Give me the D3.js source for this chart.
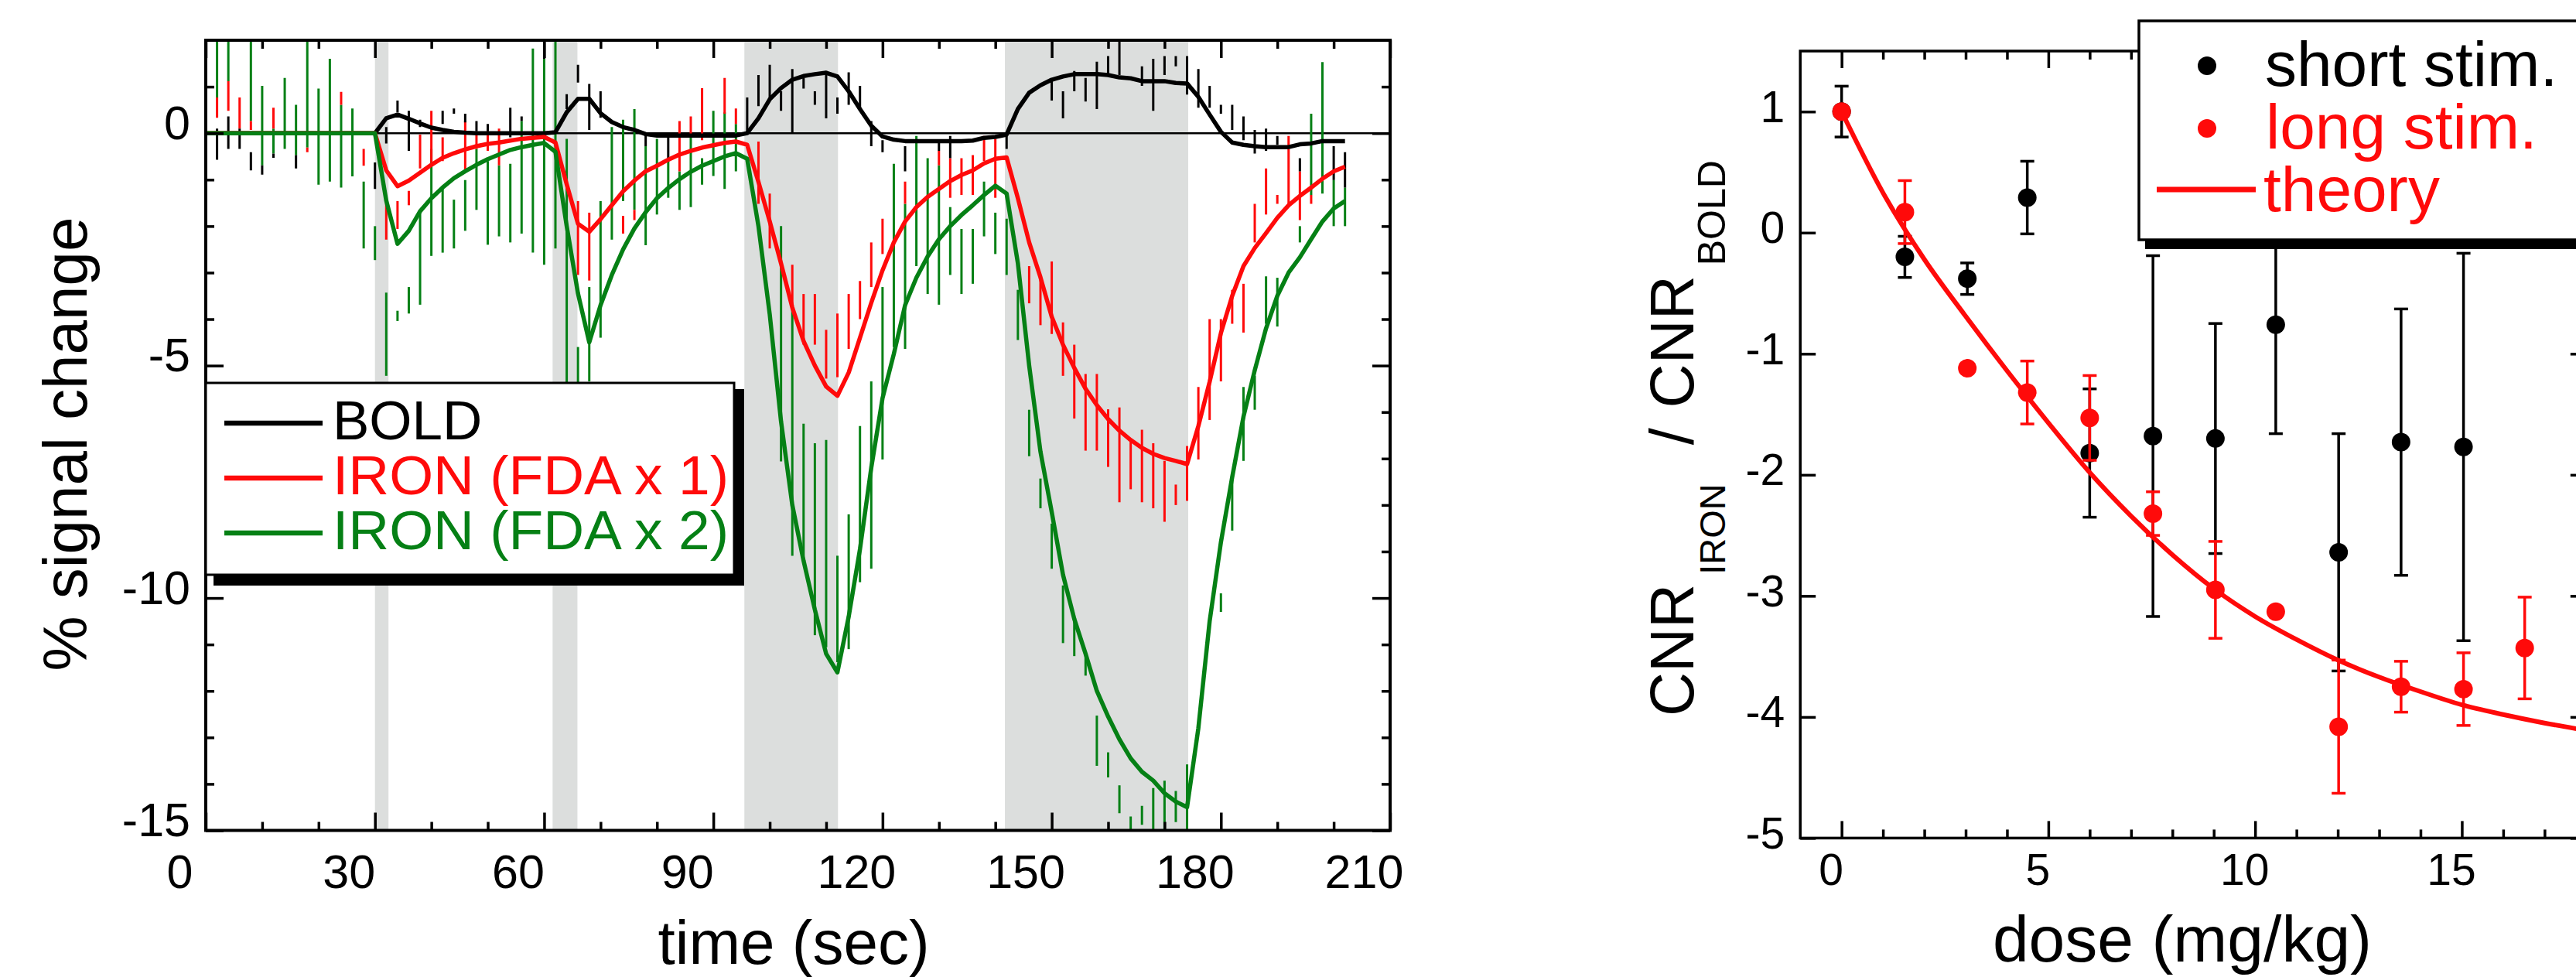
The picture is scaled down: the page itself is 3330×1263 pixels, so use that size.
<!DOCTYPE html>
<html><head><meta charset="utf-8">
<script src="https://cdn.jsdelivr.net/npm/d3@7"></script>
<style>
body{margin:0;background:#fff}
svg{display:block}
text{font-family:"Liberation Sans",Arial,Helvetica,sans-serif}
</style>
</head><body>
<svg id="c" width="3330" height="1263"></svg>
<script>
// ---------------- DATA (left panel) ----------------
const timeSec = [0,2,4,6,8,10,12,14,16,18,20,22,24,26,28,30,32,34,36,38,40,42,44,46,48,50,52,54,56,58,60,
 62,64,66,68,70,72,74,76,78,80,82,84,86,88,90,92,94,96,98,100,102,104,106,108,110,112,114,116,118,120,
 122,124,126,128,130,132,134,136,138,140,142,144,146,148,150,152,154,156,158,160,162,164,166,168,170,
 172,174,176,178,180,182,184,186,188,190,192,194,196,198,200,202];
const boldFit = [0,0,0,0,0,0,0,0,0,0,0,0,0,0,0,0,
 0.32,0.4,0.31,0.21,0.12,0.07,0.03,0.01,
 0,0,0,0,0,0,0,
 0.02,0.45,0.74,0.74,0.43,0.24,0.13,0.07,-0.02,
 -0.05,-0.05,-0.05,-0.05,-0.05,-0.05,-0.05,-0.05,
 0.0,0.32,0.73,0.97,1.15,1.23,1.27,1.3,1.22,0.9,0.52,0.16,-0.07,-0.14,-0.17,-0.17,-0.17,-0.17,-0.17,-0.17,-0.16,-0.1,-0.08,-0.03,
 0.52,0.87,1.03,1.15,1.22,1.27,1.27,1.27,1.25,1.2,1.18,1.12,1.12,1.12,1.08,1.07,0.78,0.4,0.03,-0.2,-0.25,-0.28,-0.3,-0.3,-0.3,-0.24,-0.22,-0.17,-0.17,-0.17];
const iron1Fit = [0,0,0,0,0,0,0,0,0,0,0,0,0,0,0,0,
 -0.8,-1.14,-1.02,-0.85,-0.68,-0.53,-0.43,-0.35,
 -0.28,-0.23,-0.2,-0.16,-0.12,-0.1,-0.08,
 -0.2,-1.1,-1.95,-2.12,-1.85,-1.55,-1.25,-1.02,-0.82,
 -0.7,-0.57,-0.46,-0.38,-0.31,-0.26,-0.21,-0.18,
 -0.25,-1.05,-1.9,-2.8,-3.75,-4.47,-5.0,-5.45,-5.65,-5.15,-4.4,-3.65,-2.95,-2.35,-1.9,-1.59,-1.37,-1.2,-1.03,-0.9,-0.8,-0.65,-0.55,-0.52,
 -1.4,-2.35,-3.1,-3.95,-4.55,-5.05,-5.5,-5.85,-6.15,-6.4,-6.6,-6.77,-6.9,-6.99,-7.05,-7.12,-6.3,-5.35,-4.3,-3.5,-2.86,-2.47,-2.15,-1.82,-1.55,-1.35,-1.17,-0.98,-0.82,-0.72];
const iron2Fit = [0,0,0,0,0,0,0,0,0,0,0,0,0,0,0,0,
 -1.45,-2.38,-2.1,-1.68,-1.4,-1.17,-0.97,-0.82,
 -0.68,-0.56,-0.46,-0.36,-0.3,-0.25,-0.21,
 -0.4,-2.0,-3.45,-4.5,-3.7,-3.05,-2.5,-2.05,-1.7,
 -1.4,-1.18,-0.99,-0.83,-0.7,-0.6,-0.5,-0.43,
 -0.55,-2.0,-3.9,-6.2,-8.0,-9.2,-10.25,-11.2,-11.6,-10.4,-8.95,-7.2,-5.7,-4.75,-3.7,-3.11,-2.65,-2.28,-2.0,-1.76,-1.55,-1.33,-1.13,-1.3,
 -2.8,-5.0,-6.85,-8.15,-9.5,-10.45,-11.2,-12.0,-12.55,-13.04,-13.45,-13.74,-13.93,-14.2,-14.38,-14.5,-12.8,-10.5,-8.8,-7.4,-6.1,-5.1,-4.2,-3.5,-3.0,-2.67,-2.28,-1.9,-1.62,-1.46];
// error segments: [time, low, high]
const boldErr = [[2,-0.57,0.1],[4,-0.34,0.36],[6,-0.34,0.1],[8,-0.8,-0.41],[10,-0.89,-0.69],[12,-0.53,-0.44],[16,-0.76,-0.47],
 [30,-1.2,-0.63],[32,-0.22,0.13],[34,0.45,0.7],[36,-0.38,0.48],[38,0.13,0.29],[42,0.2,0.48],[44,0.42,0.53],[46,0.23,0.42],
 [48,0.04,0.26],[50,0.04,0.2],[54,-0.09,0.55],[56,0.26,0.36],[60,1.6,2.0],[64,0.52,0.84],[66,1.09,1.47],[68,0.07,1.06],[70,0.33,0.9],
 [78,-0.28,-0.03],[82,-0.54,-0.09],[96,0,0.77],[98,0.58,1.25],[100,0.77,1.47],[102,0.48,0.9],[104,0,1.38],[106,0.96,1.19],
 [108,0.61,0.9],[110,0.32,1.34],[112,0.42,0.77],[114,0.61,1.31],[116,0.55,1.02],[118,-0.28,0.26],[120,-0.41,-0.15],[124,-0.82,-0.28],
 [130,-0.38,-0.18],[132,-0.54,-0.06],[142,-0.34,-0.03],[150,0.7,1.12],[152,0.32,0.9],[154,0.9,1.34],[156,0.68,1.19],[158,0.52,1.54],
 [160,1.28,1.66],[162,1.25,2.0],[166,1.02,1.44],[168,0.48,1.6],[170,1.25,1.66],[172,1.44,1.66],[174,0.83,1.66],[176,0.55,1.38],
 [178,0.55,1.02],[180,0.42,0.61],[182,0.07,0.61],[184,-0.15,0.36],[186,-0.44,0.07],[188,-0.38,0.1],[190,-0.25,-0.06],
 [194,-0.82,-0.54],[200,-1.01,-0.28],[202,-1.17,-0.41]];
const iron1Err = [[2,0.33,0.77],[4,0.48,1.12],[6,0.1,0.77],[8,0.07,0.26],[12,0.1,0.55],[18,-0.41,-0.31],[24,0.61,0.89],[28,-0.7,-0.34],
 [32,-2.29,-1.39],[34,-2.06,-1.46],[36,-1.55,-1.24],[38,-0.76,-0.03],[40,-0.63,0.48],[42,-0.6,-0.09],[46,-0.85,0.26],[48,-0.34,0.04],
 [50,-0.38,0.1],[52,-0.69,0.1],[66,-3.05,-1.46],[68,-3.17,-1.71],[74,-2.16,-1.78],[76,-1.87,-1.65],[84,-0.82,0.26],[86,-0.06,0.36],
 [88,-0.15,0.97],[92,0.42,1.19],[94,0.2,0.53],[98,-1.52,-0.18],[100,-2.48,-1.3],[104,-3.81,-2.83],[106,-4.55,-3.46],[108,-4.55,-3.46],
 [110,-5.28,-4.23],[112,-5.25,-3.88],[114,-4.64,-3.46],[116,-4.0,-3.18],[118,-3.31,-2.35],[120,-2.6,-1.84],[124,-1.52,-1.04],
 [130,-0.69,-0.38],[132,-1.39,-0.54],[134,-1.33,-0.54],[136,-1.33,-0.47],[138,-0.6,-0.06],[140,-1.39,-0.12],[146,-3.66,-2.86],
 [148,-4.13,-3.05],[150,-4.32,-2.76],[152,-5.22,-4.07],[154,-6.14,-4.55],[156,-6.83,-5.18],[158,-6.83,-5.18],[160,-7.18,-5.94],
 [162,-7.94,-5.9],[164,-7.66,-6.6],[166,-7.94,-6.38],[168,-8.07,-6.67],[170,-8.36,-7.05],[172,-8.0,-7.56],[174,-7.91,-6.73],
 [176,-7.02,-5.46],[178,-6.17,-4.0],[180,-5.34,-4.0],[182,-4.1,-3.37],[184,-4.29,-3.24],[186,-2.35,-1.52],[188,-1.75,-0.76],
 [190,-1.52,-1.33],[192,-1.59,-0.06],[194,-1.87,-0.82],[196,-1.52,-1.33]];
const iron2Err = [[2,0.77,2.0],[4,1.12,2.0],[8,0.26,2.0],[10,-0.69,1.02],[12,-0.44,0.1],[14,-0.34,1.19],[16,-0.47,0.61],[18,-0.31,2.0],
 [20,-1.11,0.96],[22,-1.04,1.6],[24,-1.17,0.61],[26,-0.93,0.53],[28,-2.48,-1.04],[30,-2.73,-2.0],[32,-5.22,-3.43],[34,-4.04,-3.82],
 [36,-3.88,-3.31],[38,-3.69,-1.71],[40,-2.64,-0.34],[42,-2.57,-1.2],[44,-2.48,-1.43],[46,-2.1,-1.01],[48,-1.65,-0.34],[50,-2.4,-0.6],
 [52,-2.22,-0.69],[54,-2.35,-0.66],[56,-2.16,0.26],[58,-2.57,1.82],[60,-2.83,1.6],[62,-2.48,2.0],[64,-6.0,-0.12],[66,-6.6,-4.6],
 [68,-5.34,-3.31],[70,-4.4,-1.46],[72,-2.29,0.13],[74,-1.46,0.29],[76,-1.65,0.52],[78,-2.41,-0.28],[80,-1.75,-0.12],[82,-1.39,-0.54],
 [84,-1.65,-0.82],[86,-1.59,-0.06],[88,-1.11,-0.54],[90,-0.92,0.48],[92,-1.2,0.45],[94,-0.82,0.2],[102,-7.06,-2.0],[104,-9.09,-3.75],
 [106,-9.09,-6.25],[108,-10.8,-6.67],[110,-11.06,-6.6],[112,-11.38,-9.09],[114,-11.1,-8.2],[116,-9.66,-6.3],[118,-9.37,-5.34],
 [120,-7.02,-3.31],[122,-4.6,-0.66],[124,-4.64,-1.52],[126,-2.86,-0.06],[128,-3.46,-0.54],[130,-3.69,-0.69],[132,-3.05,-1.59],
 [134,-3.46,-2.06],[136,-3.24,-2.06],[138,-2.22,-1.04],[140,-2.6,-1.71],[142,-3.05,-1.84],[144,-4.45,-3.37],[146,-6.95,-5.95],
 [148,-8.07,-7.43],[150,-9.37,-8.4],[152,-10.97,-9.73],[154,-11.25,-10.43],[156,-11.67,-11.19],[158,-13.61,-12.53],
 [160,-13.86,-13.32],[162,-14.63,-14.03],[164,-15,-14.7],[166,-14.88,-14.47],[168,-15,-14.09],[170,-15,-13.93],[172,-14.82,-14.15],
 [174,-15,-13.58],[180,-10.3,-9.9],[182,-8.55,-7.37],[184,-7.05,-5.46],[186,-5.95,-5.22],[188,-4.1,-3.08],[190,-4.16,-3.11],
 [194,-2.35,-2.0],[196,-1.33,0.42],[198,-1.3,1.53],[200,-2.0,-1.01],[202,-2.0,-1.17]];
const stimStart = [30, 61.5, 95.5, 141.7];
const stimEnd   = [32.4, 65.9, 112.1, 174.2];
const timeTickLabels = [0,30,60,90,120,150,180,210];
const timeMinorTicks = [10,20,40,50,70,80,100,110,130,140,160,170,190,200];
const signalTickLabels = [0,-5,-10,-15];
const signalMinorTicks = [1,-1,-2,-3,-4,-6,-7,-8,-9,-11,-12,-13,-14];
const leftLegend = ["BOLD","IRON (FDA x 1)","IRON (FDA x 2)"];

// ---------------- DATA (right panel) ----------------
const doseShort = [0, 1.53, 3.04, 4.49, 6.0, 7.53, 9.04, 10.5, 12.02, 13.53, 15.04];
const cnrShort  = [1.0, -0.2, -0.38, 0.29, -1.82, -1.68, -1.7, -0.76, -2.64, -1.73, -1.77];
const errShort  = [0.21, 0.17, 0.13, 0.3, 0.53, 1.49, 0.95, 0.9, 0.98, 1.1, 1.6];
const doseLong  = [0, 1.53, 3.04, 4.49, 6.0, 7.53, 9.04, 10.5, 12.02, 13.53, 15.04, 16.52];
const cnrLong   = [1.0, 0.17, -1.12, -1.32, -1.53, -2.32, -2.95, -3.13, -4.08, -3.75, -3.77, -3.43];
const errLong   = [0, 0.26, 0, 0.26, 0.35, 0.18, 0.4, 0, 0.55, 0.21, 0.3, 0.42];
const theoryDose = [0,1,2,3,4,5,6,7,8,9,10,11,12,13,14,15,16,17,18];
const theoryCnr  = [1.0,0.33,-0.22,-0.69,-1.14,-1.57,-1.98,-2.34,-2.66,-2.94,-3.17,-3.36,-3.53,-3.67,-3.79,-3.9,-3.98,-4.05,-4.11];
const doseTickLabels = [0,5,10,15];
const doseMinorTicks = [1,2,3,4,6,7,8,9,11,12,13,14,16,17];
const cnrTicks = [1,0,-1,-2,-3,-4,-5];
const rightLegend = ["short stim.","long stim.","theory"];

// ---------------- STYLE ----------------
const C_BLACK="#000000", C_RED="#ff0a0a", C_GREEN="#058015", C_GRAY="#dcdedd";
const FONT='"Liberation Sans",Arial,sans-serif';
const plain = d => String(d);   // hyphen-minus like the original
const svg = d3.select("#c");
svg.append("rect").attr("width",3330).attr("height",1263).attr("fill","#fff");

// ================= LEFT PANEL =================
const xL = d3.scaleLinear().domain([0,210]).range([266,1797]);
const yL = d3.scaleLinear().domain([-15,2]).range([1073.5,52]);
const L = svg.append("g");
L.append("clipPath").attr("id","clipL").append("rect")
  .attr("x",xL(0)).attr("y",yL(2)).attr("width",xL(210)-xL(0)).attr("height",yL(-15)-yL(2));

// stimulus bars
L.selectAll("rect.stim").data(stimStart).join("rect").attr("class","stim")
  .attr("x",(d)=>xL(d)).attr("width",(d,i)=>xL(stimEnd[i])-xL(d))
  .attr("y",yL(2)).attr("height",yL(-15)-yL(2)).attr("fill",C_GRAY);

// zero line
L.append("line").attr("x1",xL(0)).attr("x2",xL(210)).attr("y1",yL(0)).attr("y2",yL(0))
  .attr("stroke",C_BLACK).attr("stroke-width",2.5);

const plotL = L.append("g").attr("clip-path","url(#clipL)");
function errSegs(arr,color){
  plotL.append("g").selectAll("line").data(arr).join("line")
    .attr("x1",d=>xL(d[0])).attr("x2",d=>xL(d[0]))
    .attr("y1",d=>yL(d[1])).attr("y2",d=>yL(d[2]))
    .attr("stroke",color).attr("stroke-width",3);
}
errSegs(iron2Err,C_GREEN);
errSegs(iron1Err,C_RED);
errSegs(boldErr,C_BLACK);
const lineL = d3.line().x((d,i)=>xL(timeSec[i])).y(d=>yL(d));
[[boldFit,C_BLACK],[iron1Fit,C_RED],[iron2Fit,C_GREEN]].forEach(([s,c])=>{
  plotL.append("path").attr("d",lineL(s)).attr("fill","none").attr("stroke",c)
    .attr("stroke-width",5.5).attr("stroke-linejoin","round");
});

// axes (left panel)
function styleAxis(g){ g.select(".domain").remove(); g.selectAll(".tick line").attr("stroke",C_BLACK).attr("stroke-width",3.5); }
// bottom
L.append("g").attr("transform",`translate(0,${yL(-15)})`)
  .call(d3.axisBottom(xL).tickValues(timeMinorTicks).tickSize(-11).tickFormat("")).call(styleAxis);
const bL = L.append("g").attr("transform",`translate(0,${yL(-15)})`)
  .call(d3.axisBottom(xL).tickValues(timeTickLabels).tickSize(-23).tickPadding(31).tickFormat(plain)).call(styleAxis);
bL.selectAll("text").attr("font-size",61).attr("fill",C_BLACK).attr("dx",-34).style("font-family",FONT);
// top
L.append("g").attr("transform",`translate(0,${yL(2)})`)
  .call(d3.axisTop(xL).tickValues(timeMinorTicks).tickSize(-11).tickFormat("")).call(styleAxis);
L.append("g").attr("transform",`translate(0,${yL(2)})`)
  .call(d3.axisTop(xL).tickValues(timeTickLabels).tickSize(-23).tickFormat("")).call(styleAxis);
// left
L.append("g").attr("transform",`translate(${xL(0)},0)`)
  .call(d3.axisLeft(yL).tickValues(signalMinorTicks).tickSize(-11).tickFormat("")).call(styleAxis);
const lL = L.append("g").attr("transform",`translate(${xL(0)},0)`)
  .call(d3.axisLeft(yL).tickValues(signalTickLabels).tickSize(-23).tickPadding(20).tickFormat(plain)).call(styleAxis);
lL.selectAll("text").attr("font-size",61).attr("fill",C_BLACK).attr("dy",7).style("font-family",FONT);
// right
L.append("g").attr("transform",`translate(${xL(210)},0)`)
  .call(d3.axisRight(yL).tickValues(signalMinorTicks).tickSize(-11).tickFormat("")).call(styleAxis);
L.append("g").attr("transform",`translate(${xL(210)},0)`)
  .call(d3.axisRight(yL).tickValues(signalTickLabels).tickSize(-23).tickFormat("")).call(styleAxis);
// frame
L.append("rect").attr("x",xL(0)).attr("y",yL(2)).attr("width",xL(210)-xL(0)).attr("height",yL(-15)-yL(2))
  .attr("fill","none").attr("stroke",C_BLACK).attr("stroke-width",4);

// legend (left)
const lg = L.append("g");
lg.append("rect").attr("x",276).attr("y",743).attr("width",686).attr("height",14).attr("fill",C_BLACK);
lg.append("rect").attr("x",949).attr("y",503).attr("width",13).attr("height",254).attr("fill",C_BLACK);
lg.append("rect").attr("x",266).attr("y",495).attr("width",683).attr("height",248)
  .attr("fill","#fff").attr("stroke",C_BLACK).attr("stroke-width",3);
const lgCols=[C_BLACK,C_RED,C_GREEN];
leftLegend.forEach((name,i)=>{
  const base = 568 + i*71;
  lg.append("line").attr("x1",290).attr("x2",417).attr("y1",base-21).attr("y2",base-21)
    .attr("stroke",lgCols[i]).attr("stroke-width",6.5);
  lg.append("text").attr("x",430).attr("y",base).attr("font-size",71).attr("fill",lgCols[i])
    .attr("textLength",512).attr("lengthAdjust","spacingAndGlyphs").text(name)
    .attr("textLength", i===0 ? null : 512);
});

// axis titles (left)
L.append("text").attr("transform","translate(112,574) rotate(-90)").attr("text-anchor","middle")
  .attr("font-size",80).attr("fill",C_BLACK).text("% signal change");
L.append("text").attr("x",1026).attr("y",1246).attr("text-anchor","middle")
  .attr("font-size",80).attr("fill",C_BLACK).text("time (sec)");

// ================= RIGHT PANEL =================
const xR = d3.scaleLinear().domain([-1,18]).range([2327.2,3342.8]);
const yR = d3.scaleLinear().domain([-5,1.5]).range([1083.4,66]);
const R = svg.append("g");
// bottom
R.append("g").attr("transform",`translate(0,${yR(-5)})`)
  .call(d3.axisBottom(xR).tickValues(doseMinorTicks).tickSize(-11).tickFormat("")).call(styleAxis);
const bR = R.append("g").attr("transform",`translate(0,${yR(-5)})`)
  .call(d3.axisBottom(xR).tickValues(doseTickLabels).tickSize(-22).tickPadding(20).tickFormat(plain)).call(styleAxis);
bR.selectAll("text").attr("font-size",57).attr("fill",C_BLACK).attr("dx",-14).style("font-family",FONT);
// top
R.append("g").attr("transform",`translate(0,${yR(1.5)})`)
  .call(d3.axisTop(xR).tickValues(doseMinorTicks).tickSize(-11).tickFormat("")).call(styleAxis);
R.append("g").attr("transform",`translate(0,${yR(1.5)})`)
  .call(d3.axisTop(xR).tickValues(doseTickLabels).tickSize(-22).tickFormat("")).call(styleAxis);
// left
const lR = R.append("g").attr("transform",`translate(${xR(-1)},0)`)
  .call(d3.axisLeft(yR).tickValues(cnrTicks).tickSize(-20).tickPadding(20).tickFormat(plain)).call(styleAxis);
lR.selectAll("text").attr("font-size",57).attr("fill",C_BLACK).attr("dy",13).style("font-family",FONT);
// right
R.append("g").attr("transform",`translate(${xR(18)},0)`)
  .call(d3.axisRight(yR).tickValues(cnrTicks).tickSize(-20).tickFormat("")).call(styleAxis);
R.append("rect").attr("x",xR(-1)).attr("y",yR(1.5)).attr("width",xR(18)-xR(-1)).attr("height",yR(-5)-yR(1.5))
  .attr("fill","none").attr("stroke",C_BLACK).attr("stroke-width",3.5);

function errorBars(g, xs, ys, es, color){
  const idx = d3.range(xs.length).filter(i=>es[i]>0);
  const eb = g.append("g").attr("stroke",color).attr("stroke-width",3.5);
  eb.selectAll("line.v").data(idx).join("line").attr("class","v")
    .attr("x1",i=>xR(xs[i])).attr("x2",i=>xR(xs[i]))
    .attr("y1",i=>yR(ys[i]-es[i])).attr("y2",i=>yR(ys[i]+es[i]));
  eb.selectAll("line.t").data(idx).join("line").attr("class","t")
    .attr("x1",i=>xR(xs[i])-9).attr("x2",i=>xR(xs[i])+9)
    .attr("y1",i=>yR(ys[i]+es[i])).attr("y2",i=>yR(ys[i]+es[i]));
  eb.selectAll("line.b").data(idx).join("line").attr("class","b")
    .attr("x1",i=>xR(xs[i])-9).attr("x2",i=>xR(xs[i])+9)
    .attr("y1",i=>yR(ys[i]-es[i])).attr("y2",i=>yR(ys[i]-es[i]));
}
errorBars(R, doseShort, cnrShort, errShort, C_BLACK);
R.append("g").selectAll("circle").data(doseShort).join("circle")
  .attr("cx",d=>xR(d)).attr("cy",(d,i)=>yR(cnrShort[i])).attr("r",12).attr("fill",C_BLACK);
const theoryLine = d3.line().x((d,i)=>xR(theoryDose[i])).y(d=>yR(d)).curve(d3.curveMonotoneX);
R.append("path").attr("d",theoryLine(theoryCnr)).attr("fill","none").attr("stroke",C_RED).attr("stroke-width",6);
errorBars(R, doseLong, cnrLong, errLong, C_RED);
R.append("g").selectAll("circle").data(doseLong).join("circle")
  .attr("cx",d=>xR(d)).attr("cy",(d,i)=>yR(cnrLong[i])).attr("r",12).attr("fill",C_RED);

// legend (right)
const rg = R.append("g");
rg.append("rect").attr("x",2773).attr("y",310).attr("width",700).attr("height",12).attr("fill",C_BLACK);
rg.append("rect").attr("x",2765).attr("y",27).attr("width",700).attr("height",283)
  .attr("fill","#fff").attr("stroke",C_BLACK).attr("stroke-width",3.5);
rg.append("circle").attr("cx",2853).attr("cy",85).attr("r",12).attr("fill",C_BLACK);
rg.append("circle").attr("cx",2853).attr("cy",166).attr("r",12).attr("fill",C_RED);
rg.append("line").attr("x1",2788).attr("x2",2916).attr("y1",245).attr("y2",245).attr("stroke",C_RED).attr("stroke-width",7);
rg.append("text").attr("x",2928).attr("y",111).attr("font-size",82).attr("fill",C_BLACK).text(rightLegend[0]);
rg.append("text").attr("x",2929).attr("y",192).attr("font-size",82).attr("fill",C_RED).text(rightLegend[1]);
rg.append("text").attr("x",2926).attr("y",273).attr("font-size",82).attr("fill",C_RED).text(rightLegend[2]);

// axis titles (right)
R.append("text").attr("x",2821).attr("y",1243).attr("text-anchor","middle").attr("font-size",84)
  .attr("fill",C_BLACK).text("dose (mg/kg)");
const yt = R.append("text").attr("transform","translate(2189,926) rotate(-90)").attr("fill",C_BLACK);
yt.append("tspan").attr("font-size",79).text("CNR");
yt.append("tspan").attr("font-size",47).attr("dx",12).attr("dy",41).text("IRON");
yt.append("tspan").attr("font-size",79).attr("dx",50).attr("dy",-41).text("/");
yt.append("tspan").attr("font-size",79).attr("dx",26).text("CNR");
yt.append("tspan").attr("font-size",50).attr("dx",13).attr("dy",41).text("BOLD");
</script>
</body></html>
